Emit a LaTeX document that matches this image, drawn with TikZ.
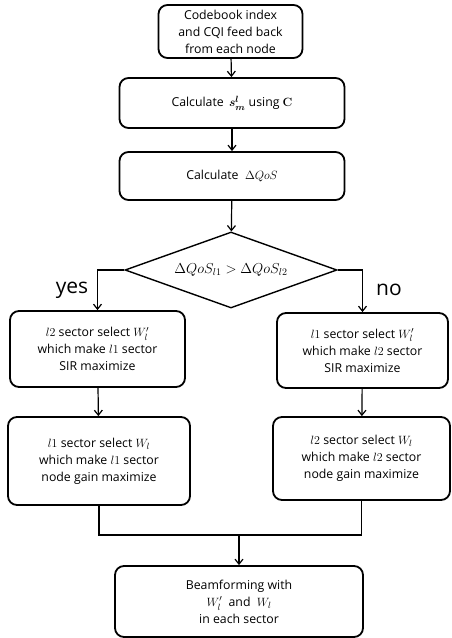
\documentclass[tikz,border=0pt]{standalone}
\usepackage{amsmath,amssymb}
\usepackage[no-math]{fontspec}
\setmainfont{Open Sans}
\usetikzlibrary{shapes.geometric,arrows.meta}

\begin{document}
\begin{tikzpicture}[x=1pt, y=1pt, >={Straight Barb[length=5pt,width=8pt]}, every node/.style={font=\fontsize{12.3}{17}\selectfont},
  box/.style={draw, rounded corners=9pt, line width=1.8pt, align=center, inner sep=0pt},
  cond/.style={draw, diamond, line width=1.4pt, inner sep=0pt, aspect=2.8}]
\useasboundingbox (0,0) rectangle (451,638);
\node[box, minimum width=144pt, minimum height=53pt] (cb) at (230.5,606.5) {Codebook index\\and CQI feed back\\from each node};
\node[box, minimum width=225pt, minimum height=50pt] (cs) at (232,535) {Calculate \,$\boldsymbol{s^{l}_{m}}$ using $\mathbf{C}$};
\node[box, minimum width=225pt, minimum height=48pt] (cq) at (232,462) {Calculate \ $\Delta QoS$};
\node[cond, minimum width=212pt, minimum height=76pt] (dq) at (231,368) {\fontsize{14}{16}\selectfont$\Delta QoS_{l1} > \Delta QoS_{l2}$};
\node[font=\fontsize{21}{24}\selectfont] (yes) at (72,348) {yes};
\node[font=\fontsize{21}{24}\selectfont] (no) at (389,348) {no};
\node[box, minimum width=175pt, minimum height=76pt] (l1) at (97.5,289) {$l2$ sector select $W'_{l}$\\which make $l1$ sector\\SIR maximize};
\node[box, minimum width=182pt, minimum height=88pt] (l2) at (99,177) {$l1$ sector select $W_{l}$\\which make $l1$ sector\\node gain maximize};
\node[box, minimum width=171pt, minimum height=75pt] (r1) at (362.5,287.5) {$l1$ sector select $W'_{l}$\\which make $l2$ sector\\SIR maximize};
\node[box, minimum width=177pt, minimum height=83pt] (r2) at (361.5,179.5) {$l2$ sector select $W_{l}$\\which make $l2$ sector\\node gain maximize};
\node[box, minimum width=248pt, minimum height=71pt] (bf) at (239,36.5) {Beamforming with\\$W'_{l}$ \ and \ $W_{l}$\\in each sector};
\coordinate (mg) at (239,103);
\draw[->, line width=1.2pt] (cb)--(cs); \draw[->, line width=1.2pt] (cs)--(cq); \draw[->, line width=1.2pt] (cq)--(dq);
\draw[->, line width=1.2pt] (dq.west) -| (l1.north); \draw[->, line width=1.2pt] (dq.east) -| (r1.north);
\draw[->, line width=1.2pt] (l1)--(l2); \draw[->, line width=1.2pt] (r1)--(r2);
\draw[line width=1.2pt] (l2.south) |- (mg) -| (r2.south); \draw[->, line width=1.2pt] (mg)--(bf);
\end{tikzpicture}
\end{document}
